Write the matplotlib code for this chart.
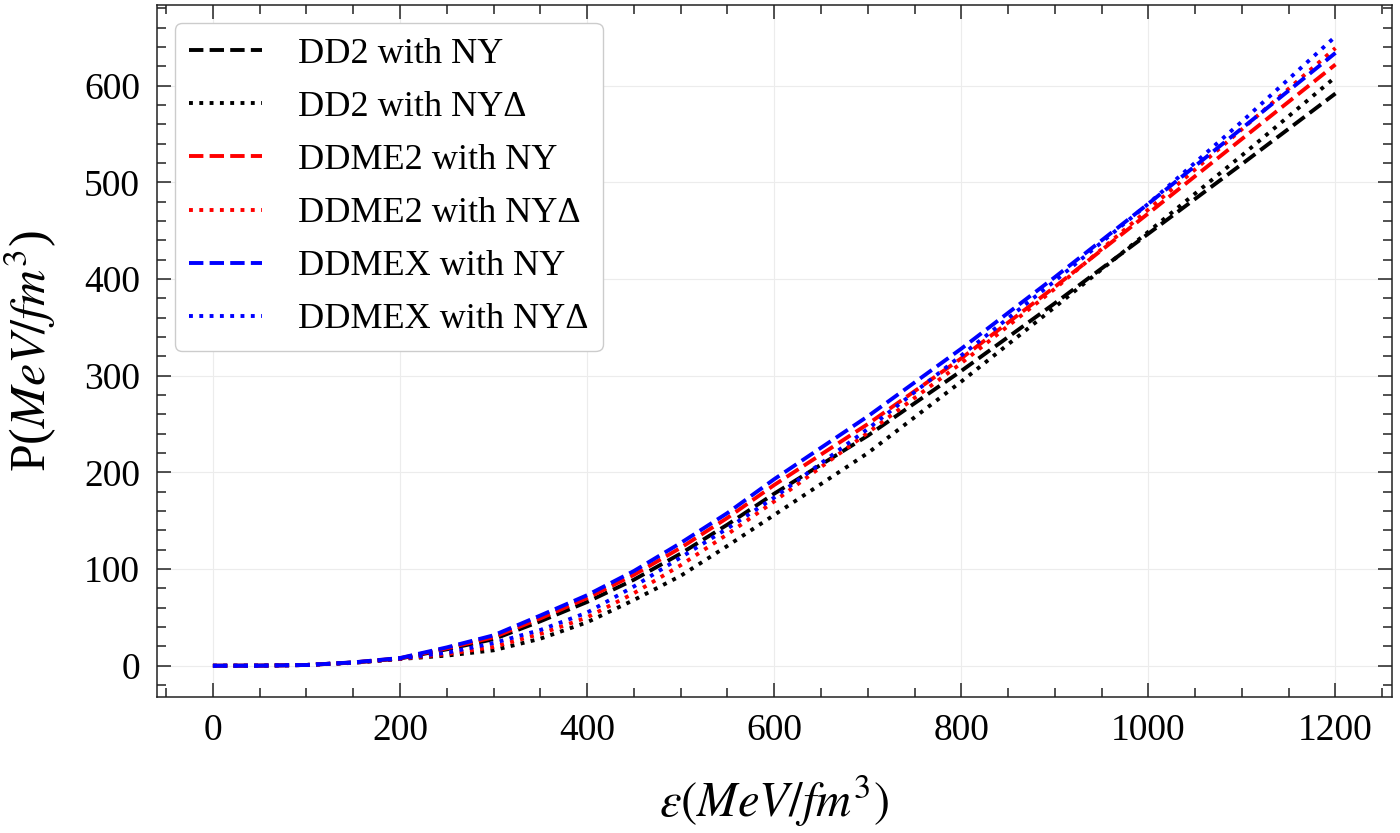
import numpy as np
import matplotlib
matplotlib.use('Agg')
import matplotlib.pyplot as plt
from matplotlib.ticker import MultipleLocator

plt.rcParams['font.family'] = ['Liberation Serif', 'DejaVu Serif']
plt.rcParams['mathtext.fontset'] = 'stix'

# energy density (MeV/fm^3)
eps = [0, 50, 100, 150, 200, 250, 300, 350, 400, 450, 500, 550, 600,
       700, 800, 900, 1000, 1100, 1200]

# pressure (MeV/fm^3)
dd2_ny = [0, 0.1, 0.8, 3.3, 7.5, 17, 27.5, 46, 66, 89, 116, 146, 178,
          238, 305, 375, 447, 519, 592]
dd2_nyd = [0, 0.1, 0.8, 3.0, 7.0, 10.5, 16, 28, 45, 68, 93, 124, 156,
           220, 294, 371, 449, 528, 609]
ddme2_ny = [0, 0.1, 0.8, 3.4, 7.8, 18, 29.5, 49, 70, 94, 122, 153, 187,
            250, 318, 392, 468, 545, 622]
ddme2_nyd = [0, 0.1, 0.8, 3.2, 7.2, 12, 19.5, 33, 50, 75, 104, 136, 170,
             241, 313, 390, 472, 555, 639]
ddmex_ny = [0, 0.1, 0.8, 3.5, 8, 19, 31.5, 52, 73, 98, 127, 158, 193,
            258, 328, 402, 478, 556, 634]
ddmex_nyd = [0, 0.1, 0.8, 3.3, 7.5, 13.5, 23.5, 37, 55, 82, 112, 142, 174,
             245, 321, 398, 478, 563, 651]

fig = plt.figure(figsize=(14, 8.33), dpi=100)
ax = fig.add_axes([0.112, 0.163, 0.882, 0.831])

lw = 2.8
ax.plot(eps, dd2_ny, color='k', ls='--', lw=lw, label='DD2 with NY')
ax.plot(eps, dd2_nyd, color='k', ls=':', lw=lw, label='DD2 with NYΔ')
ax.plot(eps, ddme2_ny, color='red', ls='--', lw=lw, label='DDME2 with NY')
ax.plot(eps, ddme2_nyd, color='red', ls=':', lw=lw, label='DDME2 with NYΔ')
ax.plot(eps, ddmex_ny, color='blue', ls='--', lw=lw, label='DDMEX with NY')
ax.plot(eps, ddmex_nyd, color='blue', ls=':', lw=lw, label='DDMEX with NYΔ')

ax.set_xlabel(r'$\varepsilon(MeV/fm^3)$', fontsize=35, labelpad=18)
ax.set_ylabel(r'P($MeV/fm^3$)', fontsize=36, labelpad=18)

ax.xaxis.set_major_locator(MultipleLocator(200))
ax.xaxis.set_minor_locator(MultipleLocator(50))
ax.yaxis.set_major_locator(MultipleLocator(100))
ax.yaxis.set_minor_locator(MultipleLocator(20))
ax.tick_params(which='both', direction='in', top=True, right=True,
               labelsize=27, width=1.1, colors='#222222', pad=12)
ax.tick_params(which='major', length=10)
ax.tick_params(which='minor', length=6.5)
for lab in ax.get_xticklabels() + ax.get_yticklabels():
    lab.set_color('black')
for s in ax.spines.values():
    s.set_linewidth(1.1)
    s.set_color('#222222')

ax.grid(True, which='major', color='#ececec', lw=0.8)
ax.set_axisbelow(True)

ax.legend(loc='upper left', fontsize=26, frameon=True, fancybox=True,
          edgecolor='#cccccc', framealpha=1.0, handlelength=2.0,
          handletextpad=1.0, labelspacing=0.55)

fig.savefig('out.png', dpi=100)
